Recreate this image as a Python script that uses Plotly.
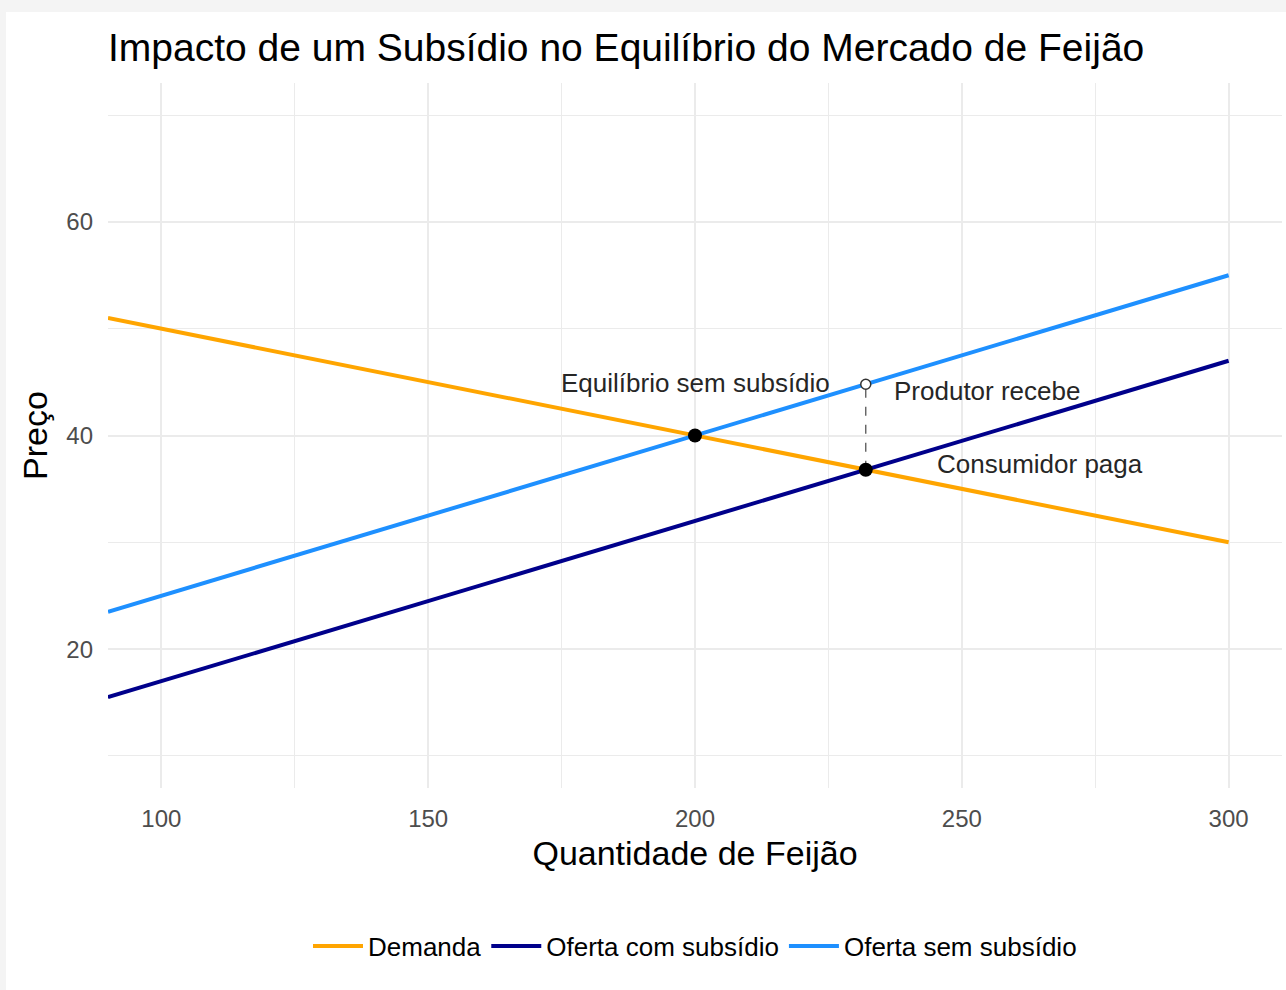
import plotly.graph_objects as go

# ---- data ----
quantity = [90, 300]
demand = [51, 30]
supply_with_subsidy = [15.5, 47]
supply_without_subsidy = [23.5, 55]

eq_no_subsidy_x = [200]
eq_no_subsidy_y = [40]
eq_subsidy_x = [232]
consumer_price = [36.8]
producer_price = [44.8]

x_ticks = [100, 150, 200, 250, 300]
y_ticks = [20, 40, 60]

FONT = "Liberation Sans, Arial, sans-serif"

fig = go.Figure()

fig.add_trace(go.Scatter(x=quantity, y=demand, mode="lines", name="Demanda",
                         line=dict(color="#FFA500", width=4)))
fig.add_trace(go.Scatter(x=quantity, y=supply_with_subsidy, mode="lines", name="Oferta com subsídio",
                         line=dict(color="#00008B", width=4)))
fig.add_trace(go.Scatter(x=quantity, y=supply_without_subsidy, mode="lines", name="Oferta sem subsídio",
                         line=dict(color="#1E90FF", width=4)))

# dashed segment between consumer and producer price
fig.add_trace(go.Scatter(x=eq_subsidy_x * 2, y=consumer_price + producer_price, mode="lines",
                         line=dict(color="#555555", width=1.3, dash="dash"), showlegend=False,
                         hoverinfo="skip"))

fig.add_trace(go.Scatter(x=eq_no_subsidy_x, y=eq_no_subsidy_y, mode="markers", showlegend=False,
                         marker=dict(color="black", size=14)))
fig.add_trace(go.Scatter(x=eq_subsidy_x, y=consumer_price, mode="markers", showlegend=False,
                         marker=dict(color="black", size=14)))
fig.add_trace(go.Scatter(x=eq_subsidy_x, y=producer_price, mode="markers", showlegend=False,
                         marker=dict(color="white", size=10, line=dict(color="#333333", width=1.5))))

annot_font = dict(family=FONT, size=26, color="#262626")
fig.add_annotation(x=200, y=44.9, text="Equilíbrio sem subsídio", showarrow=False,
                   xanchor="center", yanchor="middle", font=annot_font)
fig.add_annotation(x=237, y=44.2, text="Produtor recebe", showarrow=False,
                   xanchor="left", yanchor="middle", font=annot_font)
fig.add_annotation(x=245, y=37.3, text="Consumidor paga", showarrow=False,
                   xanchor="left", yanchor="middle", font=annot_font)

# light grey frame around the white canvas
fig.add_shape(type="rect", xref="paper", yref="paper",
              x0=(6 - 108) / 1174, x1=(1290 - 108) / 1174,
              y0=(788 - 995) / 705, y1=(788 - 12) / 705,
              fillcolor="white", line=dict(width=0), layer="below")

grid = "#EBEBEB"
fig.update_xaxes(range=[90, 310], tickvals=x_ticks, showgrid=True, gridcolor=grid, gridwidth=1.6,
                 minor=dict(dtick=25, tick0=0, showgrid=True, gridcolor=grid, gridwidth=0.9),
                 zeroline=False, showline=False, ticks="",
                 tickfont=dict(family=FONT, size=24, color="#4D4D4D"), ticklabelstandoff=14,
                 title=dict(text="Quantidade de Feijão", font=dict(family=FONT, size=34, color="black"),
                            standoff=10))
fig.update_yaxes(range=[7, 73], tickvals=y_ticks, showgrid=True, gridcolor=grid, gridwidth=1.6,
                 minor=dict(dtick=10, tick0=0, showgrid=True, gridcolor=grid, gridwidth=0.9),
                 zeroline=False, showline=False, ticks="",
                 tickfont=dict(family=FONT, size=24, color="#4D4D4D"), ticklabelstandoff=14,
                 title=dict(text="Preço", font=dict(family=FONT, size=34, color="black"),
                            standoff=8))

fig.update_layout(
    width=1286, height=990,
    paper_bgcolor="#F4F4F4", plot_bgcolor="white",
    margin=dict(l=108, r=4, t=83, b=202),
    title=dict(text="Impacto de um Subsídio no Equilíbrio do Mercado de Feijão",
               font=dict(family=FONT, size=39, color="black"),
               x=108 / 1286, xanchor="left", xref="container",
               y=1 - 47 / 990, yanchor="middle", yref="container"),
    legend=dict(orientation="h", x=0.5, xanchor="center", y=(788 - 946) / 705, yanchor="middle",
                font=dict(family=FONT, size=26, color="black"), bgcolor="rgba(0,0,0,0)",
                itemwidth=50),
    showlegend=True,
)

fig.write_html("out.html", config={"displayModeBar": False},
               post_script="document.body.style.margin='0';")
